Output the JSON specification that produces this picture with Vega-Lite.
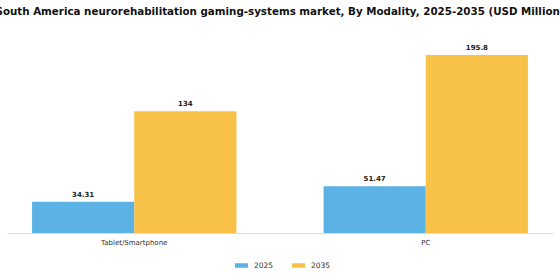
{
  "$schema": "https://vega.github.io/schema/vega-lite/v6.json",
  "width": 546,
  "height": 197,
  "autosize": {"type": "none"},
  "padding": {"left": 7, "top": 36, "right": 7, "bottom": 47},
  "background": "white",
  "title": {
    "text": "South America neurorehabilitation gaming-systems market, By Modality, 2025-2035 (USD Million)",
    "fontSize": 10.3,
    "fontWeight": "bold",
    "font": "DejaVu Sans",
    "color": "#111",
    "anchor": "middle",
    "offset": 19
  },
  "data": {
    "values": [
      {"modality": "Tablet/Smartphone", "year": "2025", "value": 34.31},
      {"modality": "Tablet/Smartphone", "year": "2035", "value": 134},
      {"modality": "PC", "year": "2025", "value": 51.47},
      {"modality": "PC", "year": "2035", "value": 195.8}
    ]
  },
  "encoding": {
    "x": {
      "field": "modality",
      "type": "nominal",
      "sort": ["Tablet/Smartphone", "PC"],
      "scale": {"paddingInner": 0.299, "paddingOuter": 0.086},
      "axis": {
        "title": null,
        "labelAngle": 0,
        "ticks": false,
        "domainColor": "#dddddd",
        "labelFont": "DejaVu Sans",
        "labelFontSize": 7,
        "labelColor": "#333",
        "labelPadding": 5
      }
    },
    "xOffset": {"field": "year", "type": "nominal", "scale": {"paddingInner": 0}},
    "y": {
      "field": "value",
      "type": "quantitative",
      "scale": {"domain": [0, 216.7]},
      "axis": null
    }
  },
  "layer": [
    {
      "mark": {"type": "bar"},
      "encoding": {
        "color": {
          "field": "year",
          "type": "nominal",
          "scale": {"domain": ["2025", "2035"], "range": ["#5cb2e5", "#f8c249"]},
          "legend": {
            "title": null,
            "orient": "none",
            "legendX": 228,
            "legendY": 223,
            "direction": "horizontal",
            "symbolType": "M-1,-0.35H1V0.35H-1Z",
            "symbolSize": 169,
            "symbolStrokeWidth": 0,
            "labelFont": "DejaVu Sans",
            "labelFontSize": 7.5,
            "labelColor": "#333",
            "labelOffset": 6,
            "columnPadding": 18
          }
        }
      }
    },
    {
      "mark": {"type": "text", "dy": -7, "fontWeight": "bold", "fontSize": 7, "font": "DejaVu Sans", "color": "#222"},
      "encoding": {
        "text": {"field": "value", "type": "quantitative"}
      }
    }
  ],
  "config": {"view": {"stroke": null}}
}
